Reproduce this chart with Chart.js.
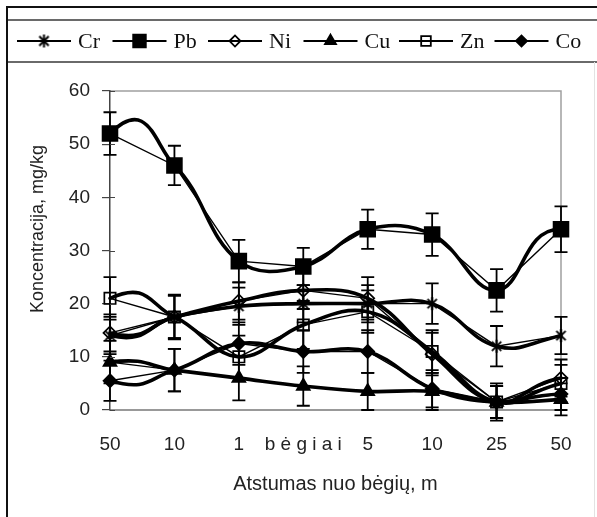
<!DOCTYPE html>
<html>
<head>
<meta charset="utf-8">
<script src="https://cdn.jsdelivr.net/npm/chart.js@4.4.0/dist/chart.umd.min.js"></script>
<style>
    html, body { margin: 0; padding: 0; background: #fff; }
    #wrap { position: relative; width: 597px; height: 517px; }
</style>
</head>
<body>
<div id="wrap"><canvas id="metalsChart" width="597" height="517"></canvas></div>
<script>
// distance from the rails, m
const labels = ['50', '10', '1', 'b ė g i a i', '5', '10', '25', '50'];
const seriesNames = ['Cr', 'Pb', 'Ni', 'Cu', 'Zn', 'Co'];

// concentration, mg/kg
const crValues = [14, 17.5, 19.5, 20, 20, 20, 12, 14];
const pbValues = [52, 46, 28, 27, 34, 33, 22.5, 34];
const niValues = [14.5, 17.5, 20.5, 22.5, 21, 10.5, 1.5, 6];
const cuValues = [9, 7.5, 6, 4.5, 3.5, 3.5, 1.5, 2];
const znValues = [21, 17.5, 10, 16, 18.5, 11, 1.5, 5];
const coValues = [5.5, 7.5, 12.5, 11, 11, 4, 1.5, 3];

// error bar half-lengths
const crErr = [3.5, 4, 3.5, 3.5, 3.5, 3.8, 3.8, 3.5];
const pbErr = [4, 3.7, 4, 3.5, 3.7, 4, 4, 4.3];
const niErr = [3.5, 4, 3.5, 3.5, 4, 4, 3.5, 3.5];
const cuErr = [4, 4, 4.2, 3.7, 3.5, 3.5, 3, 3];
const znErr = [4, 4.2, 4, 4.5, 4, 4, 3, 3.5];
const coErr = [3.8, 4, 4, 4, 4, 3.5, 3, 3];

const yTicks = [0, 10, 20, 30, 40, 50, 60];

const SANS = '"Liberation Sans", Arial, sans-serif';
const SERIF = '"Liberation Serif", "Times New Roman", serif';

// Excel-like star marker: X plus a vertical bar
function makeStar(size, lw) {
    const c = document.createElement('canvas');
    c.width = size; c.height = size;
    const g = c.getContext('2d');
    const m = size / 2, r = size / 2 - 1, d = r * 0.72;
    g.strokeStyle = '#000';
    g.lineWidth = lw;
    g.beginPath();
    g.moveTo(m, m - r); g.lineTo(m, m + r);
    g.moveTo(m - d, m - d); g.lineTo(m + d, m + d);
    g.moveTo(m + d, m - d); g.lineTo(m - d, m + d);
    g.stroke();
    return c;
}
const starMarker = makeStar(15, 1.9);
const starLegend = makeStar(15, 2);

const markerStyles = [
    { pointStyle: starMarker, radius: 7, fill: 'rgba(0,0,0,0)', legendStyle: starLegend },
    { pointStyle: 'rect', radius: 10.5, fill: '#000' },
    { pointStyle: 'rectRot', radius: 6.5, fill: 'rgba(0,0,0,0)' },
    { pointStyle: 'triangle', radius: 7.5, fill: '#000' },
    { pointStyle: 'rect', radius: 8, fill: 'rgba(0,0,0,0)' },
    { pointStyle: 'rectRot', radius: 6.5, fill: '#000' }
];

const allValues = [crValues, pbValues, niValues, cuValues, znValues, coValues];
const allErr = [crErr, pbErr, niErr, cuErr, znErr, coErr];

function smoothPath(ctx, pts, t) {
    const n = pts.length;
    const cpIn = [], cpOut = [];
    for (let i = 1; i < n - 1; i++) {
        const a = pts[i - 1], b = pts[i], c = pts[i + 1];
        const d01 = Math.hypot(b.x - a.x, b.y - a.y);
        const d12 = Math.hypot(c.x - b.x, c.y - b.y);
        const fa = t * d01 / (d01 + d12), fb = t * d12 / (d01 + d12);
        const dx = c.x - a.x, dy = c.y - a.y;
        cpIn[i] = { x: b.x - fa * dx, y: b.y - fa * dy };
        cpOut[i] = { x: b.x + fb * dx, y: b.y + fb * dy };
    }
    // end segments bulge the way the spreadsheet smoothing does
    const f = pts[0], s = pts[2];
    cpOut[0] = { x: f.x + 0.3 * (s.x - f.x), y: f.y - 0.3 * (s.y - f.y) };
    const l = pts[n - 1], m = pts[n - 3];
    cpIn[n - 1] = { x: l.x - 0.3 * (l.x - m.x), y: l.y + 0.3 * (l.y - m.y) };

    ctx.beginPath();
    ctx.moveTo(pts[0].x, pts[0].y);
    for (let i = 0; i < n - 1; i++) {
        ctx.bezierCurveTo(cpOut[i].x, cpOut[i].y, cpIn[i + 1].x, cpIn[i + 1].y, pts[i + 1].x, pts[i + 1].y);
    }
    ctx.stroke();
}

const decorPlugin = {
    id: 'decor',
    beforeDraw(chart) {
        const ctx = chart.ctx;
        const area = chart.chartArea;
        ctx.save();
        ctx.fillStyle = '#fff';
        ctx.fillRect(0, 0, chart.width, chart.height);
        // outer frame
        ctx.strokeStyle = '#111';
        ctx.lineWidth = 2;
        ctx.beginPath();
        ctx.moveTo(7, chart.height); ctx.lineTo(7, 7); ctx.lineTo(chart.width, 7);
        ctx.stroke();
        // legend band
        ctx.strokeStyle = '#6a6a6a';
        ctx.lineWidth = 2;
        ctx.beginPath();
        ctx.moveTo(8, 20); ctx.lineTo(chart.width, 20);
        ctx.moveTo(8, 62); ctx.lineTo(chart.width, 62);
        ctx.stroke();
        ctx.strokeStyle = '#e2e2e2';
        ctx.lineWidth = 1;
        ctx.beginPath();
        ctx.moveTo(594.5, 62); ctx.lineTo(594.5, chart.height);
        ctx.stroke();
        // plot area border (top and right)
        ctx.strokeStyle = '#a0a0a0';
        ctx.lineWidth = 1.5;
        ctx.beginPath();
        ctx.moveTo(area.left, area.top); ctx.lineTo(area.right, area.top); ctx.lineTo(area.right, area.bottom);
        ctx.stroke();
        ctx.restore();
    },
    beforeDatasetsDraw(chart) {
        const ctx = chart.ctx;
        const yScale = chart.scales.y;
        ctx.save();
        ctx.strokeStyle = '#000';
        ctx.lineCap = 'round';
        ctx.lineJoin = 'round';
        // smoothed curves
        ctx.lineWidth = 3.6;
        chart.data.datasets.forEach((ds, k) => {
            const meta = chart.getDatasetMeta(k);
            const pts = meta.data.map(p => ({ x: p.x, y: p.y }));
            smoothPath(ctx, pts, 0.4);
        });
        // error bars
        ctx.lineWidth = 1.8;
        ctx.lineCap = 'butt';
        chart.data.datasets.forEach((ds, k) => {
            const meta = chart.getDatasetMeta(k);
            const err = allErr[k];
            meta.data.forEach((p, i) => {
                const v = ds.data[i];
                const yTop = yScale.getPixelForValue(v + err[i]);
                const yBot = yScale.getPixelForValue(v - err[i]);
                ctx.beginPath();
                ctx.moveTo(p.x, yTop); ctx.lineTo(p.x, yBot);
                ctx.moveTo(p.x - 6.5, yTop); ctx.lineTo(p.x + 6.5, yTop);
                ctx.moveTo(p.x - 6.5, yBot); ctx.lineTo(p.x + 6.5, yBot);
                ctx.stroke();
            });
        });
        ctx.restore();
    },
    afterDraw(chart) {
        const ctx = chart.ctx;
        const area = chart.chartArea;
        const yScale = chart.scales.y;
        ctx.save();
        // inner half of the cross tick marks
        ctx.strokeStyle = '#444';
        ctx.lineWidth = 1.2;
        ctx.beginPath();
        yTicks.forEach(v => {
            const y = Math.round(yScale.getPixelForValue(v)) + 0.5;
            ctx.moveTo(area.left, y); ctx.lineTo(area.left + 5, y);
        });
        ctx.stroke();
        // y axis title
        ctx.fillStyle = '#222';
        ctx.font = '18px ' + SANS;
        ctx.textAlign = 'center';
        ctx.textBaseline = 'middle';
        ctx.translate(38, 229);
        ctx.rotate(-Math.PI / 2);
        ctx.fillText('Koncentracija, mg/kg', 0, 0);
        ctx.restore();

        // legend: line + marker + name
        ctx.save();
        const ly = 41;
        seriesNames.forEach((name, i) => {
            const cx = 44 + i * 95.5;
            ctx.strokeStyle = '#000';
            ctx.lineWidth = 2;
            ctx.beginPath();
            ctx.moveTo(cx - 27, ly); ctx.lineTo(cx + 27, ly);
            ctx.stroke();
            const ms = markerStyles[i];
            ctx.fillStyle = ms.fill;
            ctx.lineWidth = 1.8;
            Chart.helpers.drawPoint(ctx, {
                pointStyle: ms.legendStyle || ms.pointStyle,
                radius: ms.radius * 0.85,
                rotation: 0,
                borderWidth: 1.8
            }, cx, ly);
            ctx.fillStyle = '#111';
            ctx.font = '22px ' + SERIF;
            ctx.textAlign = 'left';
            ctx.textBaseline = 'middle';
            ctx.fillText(name, cx + 34, ly + 1);
        });
        ctx.restore();
    }
};

const datasets = allValues.map((vals, i) => ({
    label: seriesNames[i],
    data: vals,
    borderColor: '#000',
    borderWidth: 1.4,
    tension: 0,
    fill: false,
    pointStyle: markerStyles[i].pointStyle,
    pointRadius: markerStyles[i].radius,
    pointBackgroundColor: markerStyles[i].fill,
    pointBorderColor: '#000',
    pointBorderWidth: 1.7,
    clip: false
}));

new Chart(document.getElementById('metalsChart').getContext('2d'), {
    type: 'line',
    data: { labels: labels, datasets: datasets },
    options: {
        responsive: false,
        animation: false,
        layout: { padding: { top: 91, right: 36, left: 0, bottom: 0 } },
        plugins: {
            legend: { display: false },
            tooltip: { enabled: false },
            title: { display: false }
        },
        scales: {
            x: {
                type: 'category',
                offset: false,
                grid: { display: false, drawTicks: false },
                border: { display: true, color: '#999', width: 2 },
                ticks: {
                    autoSkip: false,
                    maxRotation: 0,
                    padding: 23,
                    color: '#222',
                    font: { family: SANS, size: 19 }
                },
                title: {
                    display: true,
                    text: 'Atstumas nuo bėgių, m',
                    color: '#222',
                    font: { family: SANS, size: 20 },
                    padding: { top: 0, bottom: 21 }
                },
                afterFit(scale) { scale.height = 107; }
            },
            y: {
                min: 0,
                max: 60,
                ticks: {
                    stepSize: 10,
                    padding: 12,
                    color: '#222',
                    font: { family: SANS, size: 19 }
                },
                grid: { drawOnChartArea: false, drawTicks: true, tickLength: 8, color: '#444', lineWidth: 1.2 },
                border: { display: true, color: '#444', width: 1.5 },
                afterFit(scale) { scale.width = 110; }
            }
        }
    },
    plugins: [decorPlugin]
});
</script>
</body>
</html>
